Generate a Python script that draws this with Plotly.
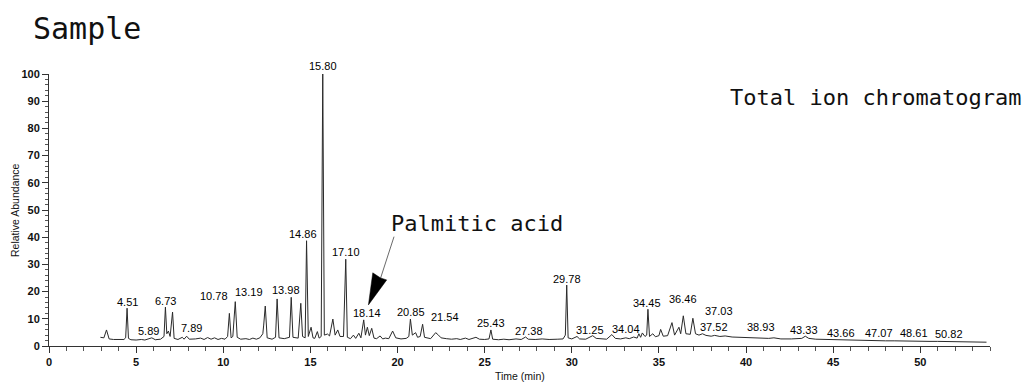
import plotly.graph_objects as go

# ---------------- data ----------------
time_min = [2.95, 3.15, 3.3, 3.45, 3.7, 4.0, 4.3, 4.4, 4.48, 4.56, 4.7, 5.0, 5.3, 5.5, 5.9, 6.1, 6.4, 6.6,
            6.68, 6.76, 6.85, 6.95, 7.09, 7.18, 7.4, 7.65, 7.75, 7.9, 8.05, 8.4, 8.7, 8.9, 9.1, 9.3, 9.5,
            9.7, 9.9, 10.1, 10.25, 10.35, 10.45, 10.55, 10.69, 10.8, 11.0, 11.3, 11.5, 11.7, 11.9, 12.1,
            12.27, 12.32, 12.41, 12.52, 12.8, 13.0, 13.09, 13.2, 13.5, 13.8, 13.9, 14.0, 14.3, 14.45,
            14.55, 14.7, 14.78, 14.88, 15.04, 15.15, 15.25, 15.4, 15.5, 15.62, 15.71, 15.8, 15.98, 16.1,
            16.29, 16.42, 16.57, 16.7, 16.9, 17.03, 17.12, 17.3, 17.47, 17.6, 17.78, 17.9, 18.06, 18.16,
            18.27, 18.38, 18.52, 18.65, 18.8, 19.0, 19.15, 19.3, 19.5, 19.72, 19.9, 20.2, 20.5, 20.65,
            20.74, 20.85, 21.04, 21.15, 21.3, 21.44, 21.55, 21.9, 22.19, 22.35, 22.5, 22.8, 23.1, 23.4,
            23.6, 23.9, 24.1, 24.5, 24.7, 25.0, 25.25, 25.36, 25.46, 25.8, 26.1, 26.4, 26.8, 27.1, 27.35,
            27.5, 27.9, 28.3, 28.7, 29.2, 29.5, 29.63, 29.71, 29.79, 30.0, 30.3, 30.45, 30.8, 31.2, 31.4,
            31.7, 32.0, 32.3, 32.5, 32.8, 33.1, 33.3, 33.55, 33.75, 33.85, 33.95, 34.05, 34.2, 34.3,
            34.37, 34.46, 34.65, 34.8, 35.0, 35.1, 35.25, 35.5, 35.75, 35.9, 36.15, 36.25, 36.4, 36.55,
            36.8, 36.95, 37.1, 37.3, 37.5, 37.7, 38.0, 38.2, 38.5, 38.8, 39.2, 39.6, 40.0, 40.3, 40.8,
            41.3, 41.6, 42.0, 42.6, 43.2, 43.4, 43.6, 44.0, 44.5, 45.0, 45.5, 46.0, 46.5, 47.0, 47.5,
            48.0, 48.5, 49.0, 49.5, 50.0, 50.5, 51.0, 51.5, 52.0, 52.5, 53.0, 53.8]
abundance = [3.2, 3.0, 5.9, 2.6, 2.4, 2.3, 2.4, 3.0, 13.9, 2.8, 2.3, 2.2, 2.4, 2.2, 3.0, 2.3, 2.5, 3.5,
             14.3, 4.5, 5.5, 3.5, 12.5, 2.8, 2.4, 3.2, 2.5, 3.6, 2.5, 2.6, 2.9, 2.4, 3.1, 2.5, 3.0,
             2.4, 2.8, 2.5, 3.5, 12.0, 3.0, 3.5, 16.3, 3.2, 2.5, 2.7, 2.4, 2.9, 2.5, 3.0,
             4.5, 7.7, 14.7, 3.0, 2.5, 3.2, 17.3, 3.0, 2.7, 3.2, 17.9, 3.2, 2.9, 15.7,
             3.5, 3.0, 38.7, 3.5, 6.9, 3.0, 2.8, 5.3, 2.9, 3.5, 100.0, 4.0, 4.4, 3.7,
             9.9, 4.0, 5.9, 3.5, 3.5, 31.9, 3.2, 2.7, 4.0, 2.8, 4.7, 3.0, 9.6, 4.0,
             6.9, 3.8, 6.5, 2.9, 2.7, 3.7, 2.6, 2.9, 2.7, 5.5, 3.0, 2.6, 2.8, 3.5,
             9.9, 4.0, 4.9, 3.2, 3.5, 8.0, 3.2, 2.7, 4.9, 4.0, 3.0, 2.7, 2.5, 2.7,
             2.4, 2.9, 2.4, 3.2, 2.5, 2.4, 2.6, 5.9, 2.5, 2.3, 2.5, 2.3, 2.6, 2.4, 3.3,
             2.5, 2.4, 2.6, 2.4, 2.5, 2.6, 4.0, 22.4, 3.0, 2.6, 3.5, 2.6, 2.5, 3.8, 2.8,
             2.6, 2.5, 4.2, 2.8, 2.6, 3.0, 2.7, 3.3, 2.9, 4.5, 3.2, 4.8, 3.5, 4.0,
             13.5, 3.5, 4.5, 3.4, 3.8, 6.1, 3.6, 3.8, 8.6, 4.0, 6.9, 4.5, 11.1, 4.5,
             4.3, 10.2, 4.5, 4.0, 4.5, 3.9, 3.6, 3.9, 3.5, 3.7, 3.3, 3.2, 3.2, 3.0, 2.9,
             2.8, 3.0, 2.6, 2.6, 2.8, 3.6, 2.8, 2.5, 2.4, 2.3, 2.2, 2.1, 2.1, 2.0, 2.0,
             1.9, 1.9, 1.8, 1.8, 1.8, 1.7, 1.7, 1.6, 1.6, 1.5, 1.5, 1.4]

peak_labels = ["4.51", "5.89", "6.73", "7.89", "10.78", "13.19", "13.98", "14.86", "15.80", "17.10",
               "18.14", "20.85", "21.54", "25.43", "27.38", "29.78", "31.25", "34.04", "34.45", "36.46",
               "37.03", "37.52", "38.93", "43.33", "43.66", "47.07", "48.61", "50.82"]
label_time = [4.48, 5.72, 6.68, 8.15, 9.44, 11.49, 13.59, 14.6, 15.71, 17.05,
              18.23, 20.77, 22.72, 25.34, 27.54, 29.7, 31.03, 33.13, 34.34, 36.38,
              38.42, 38.14, 40.87, 43.3, 45.46, 47.65, 49.66, 51.62]
label_abund = [16.2, 5.6, 16.7, 6.7, 18.5, 19.7, 20.6, 41.1, 103.0, 34.4,
               12.0, 12.6, 10.6, 8.3, 5.6, 24.6, 5.9, 6.1, 15.9, 17.2,
               12.9, 7.1, 6.9, 5.9, 4.9, 4.9, 4.7, 4.4]

x_ticks = [0, 5, 10, 15, 20, 25, 30, 35, 40, 45, 50]
y_ticks = [0, 10, 20, 30, 40, 50, 60, 70, 80, 90, 100]

# arrow pointing at palmitic acid peak (data units)
arrow_line = [(19.80, 40.2), (19.03, 25.0)]
arrow_head = [(18.58, 26.9), (18.33, 15.1), (19.38, 24.3), (19.03, 25.0)]

Y_MAX = 100
PX_PER_UNIT = 272 / Y_MAX  # plot height / y span

# ---------------- figure ----------------
fig = go.Figure()
fig.add_trace(go.Scatter(x=time_min, y=abundance, mode="lines",
                         line=dict(color="#2a2a2a", width=1), hoverinfo="skip",
                         showlegend=False, cliponaxis=True))

MONO = "DejaVu Sans Mono"
SANS = "Liberation Sans, Arial"

annotations = []
for txt, t, a in zip(peak_labels, label_time, label_abund):
    shift = 0
    if a > Y_MAX:  # annotations outside the axis range are hidden, so anchor at top and shift
        shift = (a - Y_MAX) * PX_PER_UNIT
        a = Y_MAX
    annotations.append(dict(x=t, y=a, xref="x", yref="y", text=txt, showarrow=False,
                            xanchor="center", yanchor="middle", yshift=shift,
                            font=dict(family=SANS, size=11, color="#000000")))

annotations.append(dict(x=19.51, y=44.9, xref="x", yref="y", text="Palmitic acid", showarrow=False,
                        xanchor="left", yanchor="middle", font=dict(family=MONO, size=22, color="#111111")))
annotations.append(dict(x=0.7217, y=0.9154, xref="paper", yref="paper", text="Total ion chromatogram",
                        showarrow=False, xanchor="left", yanchor="middle",
                        font=dict(family=MONO, size=22, color="#111111")))
annotations.append(dict(x=0, y=0.5, xref="paper", yref="paper", text="Relative Abundance",
                        showarrow=False, textangle=-90, xanchor="center", yanchor="middle", xshift=-34,
                        font=dict(family=SANS, size=10.5, color="#111111")))
annotations.append(dict(x=0.5, y=0, xref="paper", yref="paper", text="Time (min)",
                        showarrow=False, xanchor="center", yanchor="middle", yshift=-30,
                        font=dict(family=SANS, size=10.5, color="#111111")))

shapes = [
    dict(type="line", xref="x", yref="y", x0=arrow_line[0][0], y0=arrow_line[0][1],
         x1=arrow_line[1][0], y1=arrow_line[1][1], line=dict(color="#444444", width=0.8)),
    dict(type="path", xref="x", yref="y",
         path="M " + " L ".join(f"{px},{py}" for px, py in arrow_head) + " Z",
         fillcolor="#000000", line=dict(color="#000000", width=0.5)),
]

fig.update_layout(
    width=1031, height=383,
    margin=dict(l=48.5, r=41, t=74, b=37),
    paper_bgcolor="white", plot_bgcolor="white",
    title=dict(text="Sample", x=33 / 1031, xanchor="left", y=1 - 28 / 383, yanchor="middle",
               xref="container", yref="container",
               font=dict(family=MONO, size=30, color="#111111")),
    annotations=annotations, shapes=shapes,
    xaxis=dict(range=[0, 54], tickvals=x_ticks, ticktext=[str(v) for v in x_ticks],
               showgrid=False, zeroline=False, showline=True, linecolor="#333333", linewidth=1,
               ticks="outside", ticklen=6, tickwidth=1, tickcolor="#333333",
               minor=dict(dtick=1, tick0=0, ticks="outside", ticklen=4, tickcolor="#555555", showgrid=False),
               tickfont=dict(family=SANS, size=11, color="#111111", weight="bold")),
    yaxis=dict(range=[0, Y_MAX], tickvals=y_ticks, ticktext=[str(v) for v in y_ticks],
               showgrid=False, zeroline=False, showline=True, linecolor="#333333", linewidth=1,
               ticks="outside", ticklen=6, tickwidth=1, tickcolor="#333333",
               minor=dict(dtick=2, tick0=0, ticks="outside", ticklen=3, tickcolor="#555555", showgrid=False),
               tickfont=dict(family=SANS, size=11, color="#111111", weight="bold")),
)

fig.write_html("out.html")
